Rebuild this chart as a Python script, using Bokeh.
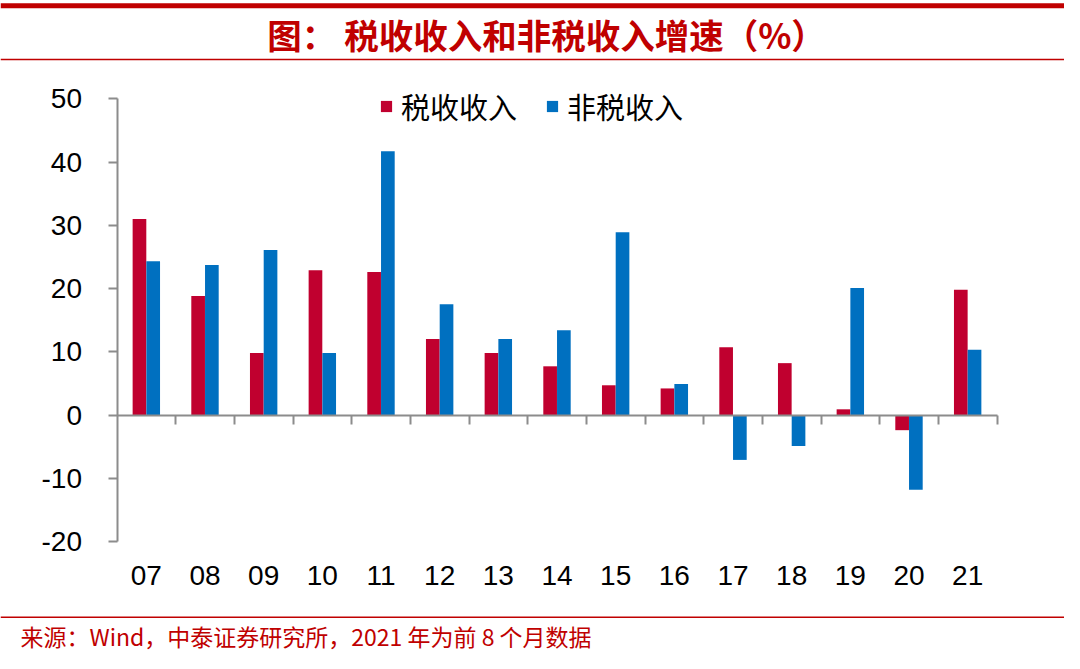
from bokeh.plotting import figure
from bokeh.models import (ColumnDataSource, Range1d, FixedTicker, LinearAxis, Span,
                          Label, Legend, LegendItem)
from bokeh.transform import dodge
from bokeh.embed import file_html
from bokeh.resources import INLINE

# ---- data ----
years = ["07", "08", "09", "10", "11", "12", "13", "14", "15", "16", "17", "18", "19", "20", "21"]
tax_growth = [31.0, 18.8, 9.8, 22.9, 22.6, 12.0, 9.8, 7.7, 4.7, 4.2, 10.7, 8.2, 0.9, -2.4, 19.8]
nontax_growth = [24.3, 23.7, 26.1, 9.8, 41.7, 17.5, 12.0, 13.4, 28.9, 4.9, -7.1, -4.9, 20.1, -11.8, 10.3]
y_ticks = [-20, -10, 0, 10, 20, 30, 40, 50]
title_text = "图：  税收收入和非税收入增速（%）"
footer_text = "来源：Wind，中泰证券研究所，2021 年为前 8 个月数据"
series_names = ["税收收入", "非税收入"]

RED = "#C0002F"
BLUE = "#0070C0"
DARKRED = "#C00000"
AXIS_GRAY = "#8C8C8C"

# ---- canvas geometry (pixels) ----
W, H = 1064, 653
FRAME_LEFT_PX = 116.5          # where x = -0.5 (left edge of first category)
CAT_PX = 880 / len(years)      # width of one category
ZERO_PX = 414.5                # where y = 0
UNIT_PX = 442.7 / 70           # pixels per 1 %

x_start = -0.5 - FRAME_LEFT_PX / CAT_PX
x_end = x_start + W / CAT_PX
y_end = ZERO_PX / UNIT_PX
y_start = y_end - H / UNIT_PX


def dx(px):
    return x_start + px / CAT_PX


def dy(py):
    return (ZERO_PX - py) / UNIT_PX


idx = list(range(len(years)))
source = ColumnDataSource(dict(idx=idx, year=years, tax=tax_growth, nontax=nontax_growth))

p = figure(width=W, height=H, x_range=Range1d(x_start, x_end), y_range=Range1d(y_start, y_end),
           output_backend="svg", toolbar_location=None, x_axis_location=None,
           y_axis_location=None, title_location=None, min_border=0)
p.grid.visible = False
p.outline_line_color = None

r1 = p.vbar(x=dodge("idx", -0.117, range=p.x_range), top="tax", width=0.233, source=source,
            fill_color=RED, line_color=None)
r2 = p.vbar(x=dodge("idx", 0.117, range=p.x_range), top="nontax", width=0.233, source=source,
            fill_color=BLUE, line_color=None)

# y axis
ya = LinearAxis(fixed_location=-0.5, bounds=(-20, 50), ticker=FixedTicker(ticks=y_ticks))
ya.major_label_overrides = {t: str(t) for t in y_ticks}
ya.minor_tick_line_color = None
ya.major_tick_out = 9
ya.major_tick_in = 0
ya.major_tick_line_color = AXIS_GRAY
ya.major_tick_line_width = 2
ya.axis_line_color = AXIS_GRAY
ya.axis_line_width = 2
ya.major_label_standoff = 26
ya.major_label_text_font = "Liberation Sans"
ya.major_label_text_font_size = "28px"
ya.major_label_text_color = "black"
p.add_layout(ya, "left")

# x category labels along the bottom (at y = -20)
xa = LinearAxis(fixed_location=-20, ticker=FixedTicker(ticks=idx))
xa.major_label_overrides = {i: y for i, y in zip(idx, years)}
xa.minor_tick_line_color = None
xa.major_tick_line_color = None
xa.axis_line_color = None
xa.major_label_standoff = 19
xa.major_label_text_font = "Liberation Sans"
xa.major_label_text_font_size = "28px"
xa.major_label_text_color = "black"
p.add_layout(xa, "below")

# zero line with category-boundary ticks
bticks = [i + 0.5 for i in idx]
za = LinearAxis(fixed_location=0, bounds=(-0.5, len(years) - 0.5), ticker=FixedTicker(ticks=bticks))
za.major_label_overrides = {t: "" for t in bticks}
za.major_label_standoff = 0
za.minor_tick_line_color = None
za.major_tick_in = 0
za.major_tick_out = 9
za.major_tick_line_color = AXIS_GRAY
za.major_tick_line_width = 2
za.axis_line_color = AXIS_GRAY
za.axis_line_width = 2
p.add_layout(za, "below")

legend = Legend(items=[LegendItem(label=series_names[0], renderers=[r1]),
                       LegendItem(label=series_names[1], renderers=[r2])],
                orientation="horizontal", location=(379, 526), padding=0, margin=0,
                spacing=28, label_standoff=8, glyph_width=14, glyph_height=14,
                label_text_font="Noto Sans CJK SC", label_text_font_size="29px",
                label_text_color="black", border_line_color=None, background_fill_alpha=0)
p.add_layout(legend, "center")

# header / footer rules and texts
p.add_layout(Span(location=dy(5.2), dimension="width", line_color=DARKRED, line_width=5))
p.add_layout(Span(location=dy(59), dimension="width", line_color=DARKRED, line_width=1.5))
p.add_layout(Span(location=dy(616.7), dimension="width", line_color=DARKRED, line_width=1.5))
p.add_layout(Label(x=dx(550), y=dy(33), text=title_text, text_font="Noto Sans CJK SC",
                   text_font_size="34.5px", text_font_style="bold", text_color=DARKRED,
                   text_align="center", text_baseline="middle"))
p.add_layout(Label(x=dx(20), y=dy(635), text=footer_text, text_font="Noto Sans CJK SC",
                   text_font_size="23px", text_color=DARKRED,
                   text_align="left", text_baseline="middle"))

open("out.html", "w").write(file_html(p, INLINE))
